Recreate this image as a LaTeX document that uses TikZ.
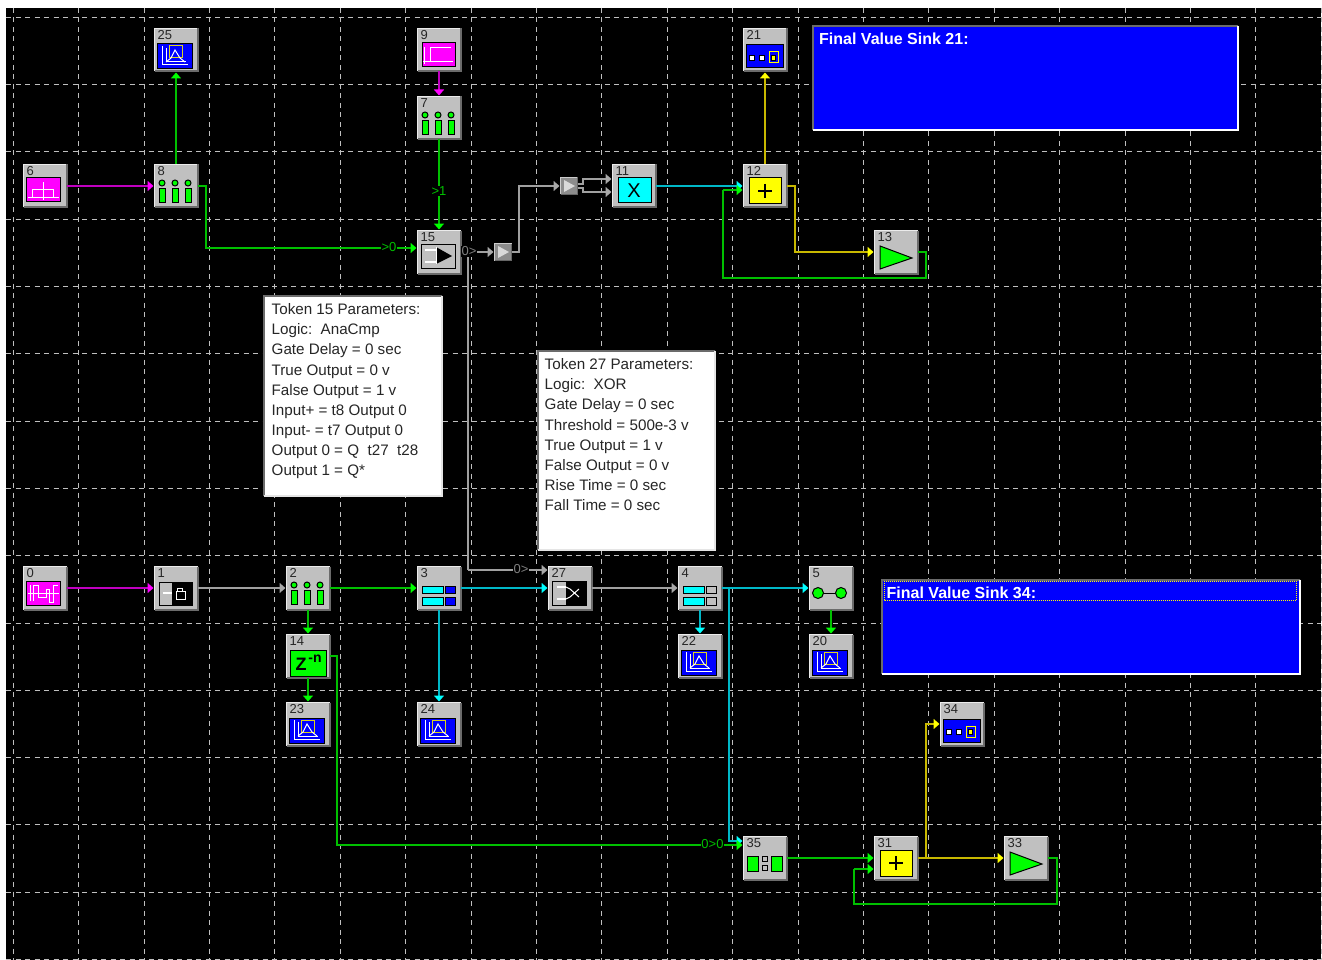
\documentclass[tikz,border=0pt]{standalone}
\usepackage{fontspec}
\setmainfont{Liberation Sans}
\usetikzlibrary{arrows.meta}
\definecolor{wgreen}{HTML}{00C000}  \definecolor{tgreen}{HTML}{00FF00}
\definecolor{wmagenta}{HTML}{C000C0}\definecolor{tmagenta}{HTML}{FF00FF}
\definecolor{wcyan}{HTML}{00B8C8}   \definecolor{tcyan}{HTML}{00FFFF}
\definecolor{wyellow}{HTML}{C8B800} \definecolor{tyellow}{HTML}{FFFF00}
\definecolor{wgray}{HTML}{A0A0A0}   \definecolor{tgray}{HTML}{A8A8A8}
\definecolor{face}{HTML}{C0C0C0}
\definecolor{sinkblue}{HTML}{0000FF}
\tikzset{
  token/.style={rectangle,fill=face,minimum width=43pt,minimum height=43pt,inner sep=0pt,outer sep=0pt},
  tokennum/.style={anchor=north west,inner sep=0pt,text=black!85,font=\fontsize{13}{13}\selectfont},
  bevelhi/.style={draw=white!92!black,line width=1pt},
  bevello/.style={draw=black!58,line width=2pt},
  bufbox/.style={rectangle,fill=black!45,minimum width=17pt,minimum height=17pt,inner sep=0pt,outer sep=0pt},
  panel/.style={draw=black,line width=1pt},
  ink/.style={draw=white,line width=1pt},
  stub/.style={draw=white,line width=2pt},
  wire/.style={line width=1.5pt,draw=w#1,shorten >=1pt,-{Triangle[length=6pt,width=10pt,color=t#1]}},
  path/.style={line width=1.5pt,draw=w#1},
  wirelabel/.style={fill=black,inner sep=0.5pt,text=#1,font=\fontsize{13}{13}\selectfont},
  gridline/.style={draw=black!25,line width=1pt,dash pattern=on 5pt off 4.5pt},
  parampanel/.style={rectangle,fill=white,minimum width=#1,inner sep=0pt,outer sep=0pt},
  paramtext/.style={anchor=north west,inner sep=0pt,align=left,text=black!85,font=\fontsize{15.2}{20.1}\selectfont},
  sinkpanel/.style={rectangle,fill=sinkblue,inner sep=0pt,outer sep=0pt},
  sinktext/.style={anchor=north west,inner sep=0pt,text=white,font=\bfseries\fontsize{16}{16}\selectfont},
  scopeicon/.pic={
    \filldraw[panel,fill=sinkblue] (-19,-6) rectangle (16,19);
    \draw[ink] (-14,-4) -- (-14,15) -- (12,15);
    \draw[ink] (-10,-2) -- (-10,12) -- (10,12);
    \draw[draw=yellow!85!black,line width=1pt] (-7,-4) rectangle (6,8);
    \draw[ink] (-10,12) -- (-5,8) -- (-1,0) -- (4,8) -- (9,12);
  },
  tallyicon/.pic={
    \foreach \xx in {-14,-1,12} {
      \filldraw[panel,fill=tgreen] (\xx,-3) circle (3);
      \filldraw[panel,fill=tgreen] (\xx-3,2.5) rectangle (\xx+3,16.5);
    }
  },
  pulseicon/.pic={
    \filldraw[panel,fill=tmagenta] (-19,-8) rectangle (15,16);
    \draw[ink] (-17,12) -- (14,12) (-13,12) |- (8,4) -- (8,12) (-2,-4) -- (-2,14);
  },
  stepicon/.pic={
    \filldraw[panel,fill=tmagenta] (-17,-7) rectangle (16,17);
    \draw[ink] (-15,-3) -- (-15,14) (-16,12) -- (14,12) (-9,12) |- (12,-2);
  },
  waveicon/.pic={
    \filldraw[panel,fill=tmagenta] (-19,-7) rectangle (15,17);
    \draw[ink] (-17,5) -- (14,5);
    \draw[ink] (-15,-3) -- (-15,13) (-12,13) -- (-12,-3) -- (-7,-3) -- (-7,9) -- (1,9) -- (1,1) -- (4,1) -- (4,14) -- (8,14) -- (8,-3) -- (13,-3);
  },
  latchicon/.pic={
    \filldraw[panel,fill=face] (-17,-6) rectangle (16,17);
    \fill[black] (-4,-6) rectangle (16,17);
    \draw[stub] (-13,5) -- (-4,5);
    \draw[ink] (0,3) rectangle (9,11) (1,3) -- (1,0) -- (6,0) -- (6,3);
  },
  compareicon/.pic={
    \filldraw[panel,fill=face] (-18,-8) rectangle (16,16);
    \draw[stub] (-14,-2) -- (-3,-2) (-14,10) -- (-3,10);
    \fill[black] (-3,-5) -- (-3,12) -- (13,4) -- cycle;
    \draw[ink] (-3,-5) -- (-3,12);
  },
  xoricon/.pic={
    \filldraw[panel,fill=face] (-18,-7) rectangle (16,17);
    \fill[black] (-4,-7) rectangle (16,17);
    \draw[stub] (-13,-1) -- (-4,-1) (-13,11) -- (-4,11);
    \draw[ink] (-4,-1) -- (0,1) -- (9,9) (-4,11) -- (0,9) -- (9,1);
  },
  splitcyan/.pic={
    \filldraw[panel,fill=tcyan] (-17,-2) rectangle (4,5);
    \filldraw[panel,fill=tcyan] (-17,9) rectangle (4,17);
    \filldraw[panel,fill=sinkblue] (6,-2) rectangle (16.5,5);
    \filldraw[panel,fill=sinkblue] (6,9) rectangle (16.5,17);
  },
  splitgray/.pic={
    \filldraw[panel,fill=tcyan] (-17,-2) rectangle (4,5);
    \filldraw[panel,fill=tcyan] (-17,9) rectangle (4,17);
    \filldraw[panel,fill=face] (6,-2) rectangle (16.5,5);
    \filldraw[panel,fill=face] (6,9) rectangle (16.5,17);
  },
  dotsicon/.pic={
    \draw[panel] (-13,5) -- (10,5);
    \filldraw[panel,fill=tgreen] (-13,5) circle (5.5);
    \filldraw[panel,fill=tgreen] (10,5) circle (5.5);
  },
  delayicon/.pic={
    \filldraw[panel,fill=tgreen] (-18,-6) rectangle (18,20);
    \node[inner sep=0pt,font=\bfseries\fontsize{18}{18}\selectfont] (zbig) at (-7,8.5) {Z};
    \node[inner sep=0pt,font=\bfseries\fontsize{14}{14}\selectfont] (zexp) at (7,3) {-n};
  },
  crossicon/.pic={
    \filldraw[panel,fill=tcyan] (-16,-8) rectangle (17,17);
    \node[inner sep=0pt,font=\fontsize{20}{20}\selectfont] (mulx) at (0,4.5) {X};
  },
  plusicon/.pic={
    \filldraw[panel,fill=tyellow] (-16,-8) rectangle (16,18);
    \draw[black,line width=2.4pt] (-7,5) -- (7,5) (0,-2) -- (0,12);
  },
  sinkicon/.pic={
    \filldraw[panel,fill=sinkblue] (-19,-5) rectangle (18,18);
    \filldraw[draw=black,fill=white,line width=0.8pt] (-15.5,5) rectangle (-10.5,10);
    \filldraw[draw=black,fill=white,line width=0.8pt] (-5.5,5) rectangle (-0.5,10);
    \draw[draw=tyellow,line width=1pt] (4,2) rectangle (13,13);
    \filldraw[draw=black,fill=tyellow,line width=0.8pt] (6.5,5) rectangle (10.5,10);
  },
  gainicon/.pic={
    \filldraw[panel,fill=tgreen] (-16,-6) -- (-16,17) -- (16,6) -- cycle;
  },
  meanicon/.pic={
    \filldraw[panel,fill=tgreen] (-18,-2) rectangle (-7,13);
    \filldraw[panel,fill=tgreen] (6,-2) rectangle (17,13);
    \filldraw[draw=black,fill=face,line width=1pt] (-3,-2) rectangle (2,3);
    \filldraw[draw=black,fill=face,line width=1pt] (-3,7.5) rectangle (2,12.5);
  },
  bufficon/.pic={
    \fill[white!85!black] (-5,-6) -- (-5,6) -- (6,0) -- cycle;
  },
}
\newcommand{\tokenblock}[3]{%
  \node[token] (t#1) at (#2) {};
  \draw[bevelhi] (t#1.south west) |- (t#1.north east);
  \draw[bevello] (t#1.north east) |- (t#1.south west);
  \node[tokennum] (n#1) at ([xshift=3pt,yshift=-2pt]t#1.north west) {#1};
  \pic at (t#1.center) {#3};
}
\newcommand{\bufblock}[2]{%
  \node[bufbox] (#1) at (#2) {};
  \draw[draw=black!20,line width=0.8pt] (#1.south west) |- (#1.north east);
  \draw[draw=black!60,line width=1pt] (#1.north east) |- (#1.south west);
  \pic at (#1.center) {bufficon};
}
\begin{document}
\begin{tikzpicture}[x=1pt,y=-1pt]
  \useasboundingbox (0,0) rectangle (1322,960);
  \fill[white] (0,0) rectangle (1322,960);
  \fill[black] (6,8) rectangle (1321,960);

  % grid
  \foreach \k in {0,...,20} \draw[gridline] ({13.2+65.4*\k},8) -- ({13.2+65.4*\k},960);
  \foreach \k in {0,...,14} \draw[gridline] (6,{17.3+67.3*\k}) -- (1321,{17.3+67.3*\k});

  % tokens, upper half
  \tokenblock{25}{176,50}{scopeicon}
  \tokenblock{6}{45,186}{pulseicon}
  \tokenblock{8}{176,186}{tallyicon}
  \tokenblock{9}{439,50}{stepicon}
  \tokenblock{7}{439,118}{tallyicon}
  \tokenblock{15}{439,252}{compareicon}
  \tokenblock{11}{634,186}{crossicon}
  \tokenblock{21}{765,50}{sinkicon}
  \tokenblock{12}{765,186}{plusicon}
  \tokenblock{13}{896,252}{gainicon}
  \bufblock{b1}{503,252}
  \bufblock{b2}{569,186}

  % tokens, lower half
  \tokenblock{0}{45,588}{waveicon}
  \tokenblock{1}{176,588}{latchicon}
  \tokenblock{2}{308,588}{tallyicon}
  \tokenblock{14}{308,656}{delayicon}
  \tokenblock{23}{308,724}{scopeicon}
  \tokenblock{3}{439,588}{splitcyan}
  \tokenblock{24}{439,724}{scopeicon}
  \tokenblock{27}{570,588}{xoricon}
  \tokenblock{4}{700,588}{splitgray}
  \tokenblock{22}{700,656}{scopeicon}
  \tokenblock{5}{831,588}{dotsicon}
  \tokenblock{20}{831,656}{scopeicon}
  \tokenblock{34}{962,724}{sinkicon}
  \tokenblock{35}{765,858}{meanicon}
  \tokenblock{31}{896,858}{plusicon}
  \tokenblock{33}{1026,858}{gainicon}

  % wires, upper half
  \draw[wire=magenta] (t6.east) -- (t8.west);
  \draw[wire=green] (t8.north) -- (t25.south);
  \draw[wire=magenta] (t9.south) -- (t7.north);
  \draw[wire=green] (t7.south) -- (t15.north);
  \node[wirelabel=wgreen] (gt1) at (439,191) {>1};
  \draw[wire=green] (t8.east) -- ++(8.5,0) |- ([yshift=4pt]t15.west);
  \node[wirelabel=wgreen] (gt0) at (389,247) {>0};
  \draw[wire=gray] (t15.east) -- (b1.west);
  \draw[path=gray] (468,253) -- (468,570);
  \node[wirelabel=gray] (out15) at (469,251.5) {0>};
  \draw[wire=gray] (468,570) -- ([yshift=18pt]t27.west);
  \node[wirelabel=gray] (out27) at (521,569.5) {0>};
  \draw[wire=gray] (b1.east) -- ++(7.5,0) |- (b2.west);
  \draw[wire=gray] ([yshift=2pt]b2.east) -- ++(5.5,0) |- ([yshift=7pt]t11.west);
  \draw[wire=gray] ([yshift=-2pt]b2.east) -- ++(5.5,0) |- ([yshift=-6pt]t11.west);
  \draw[wire=cyan] (t11.east) -- (t12.west);
  \draw[wire=yellow] (t12.north) -- (t21.south);
  \draw[wire=yellow] (t12.east) -- ++(8.5,0) |- (t13.west);
  \draw[path=green] (t13.east) -- ++(8.5,0) -- ++(0,26) -| (723,190);
  \draw[wire=green] (723,190) -- ([yshift=-4pt]t12.west);

  % wires, lower half
  \draw[wire=magenta] (t0.east) -- (t1.west);
  \draw[wire=gray] (t1.east) -- (t2.west);
  \draw[wire=green] (t2.east) -- (t3.west);
  \draw[wire=green] (t2.south) -- (t14.north);
  \draw[wire=green] (t14.south) -- (t23.north);
  \draw[wire=cyan] (t3.east) -- (t27.west);
  \draw[wire=cyan] (t3.south) -- (t24.north);
  \draw[wire=gray] (t27.east) -- (t4.west);
  \draw[wire=cyan] (t4.east) -- (t5.west);
  \draw[wire=cyan] (t4.south) -- (t22.north);
  \draw[wire=green] (t5.south) -- (t20.north);
  \draw[wire=cyan] (729,588) |- ([yshift=17pt]t35.west);
  \draw[wire=green] (t14.east) -- ++(7.5,0) |- ([yshift=13pt]t35.west);
  \node[wirelabel=wgreen] (in35) at (712.5,844.5) {0>0};
  \draw[wire=green] (t35.east) -- (t31.west);
  \draw[wire=yellow] (t31.east) -- (t33.west);
  \draw[wire=yellow] (926,858) |- (t34.west);
  \draw[path=green] (t33.east) -- ++(9.5,0) -- ++(0,46) -| (854,869);
  \draw[wire=green] (854,869) -- ([yshift=-11pt]t31.west);

  % parameter boxes
  \node[parampanel=178pt,minimum height=200pt] (p15) at (352.5,395.5) {};
  \draw[bevello] (p15.south west) |- (p15.north east);
  \draw[draw=white!90!black,line width=2pt] (p15.north east) |- (p15.south west);
  \node[paramtext] (p15t) at ([xshift=8pt,yshift=-8pt]p15.north west)
    {Token 15 Parameters:\\Logic:\ \ AnaCmp\\Gate Delay = 0 sec\\True Output = 0 v\\False Output = 1 v\\Input+ = t8 Output 0\\Input- = t7 Output 0\\Output 0 = Q\ \ t27\ \ t28\\Output 1 = Q*};
  \node[parampanel=177pt,minimum height=199pt] (p27) at (626,450) {};
  \draw[bevello] (p27.south west) |- (p27.north east);
  \draw[draw=white!90!black,line width=2pt] (p27.north east) |- (p27.south west);
  \node[paramtext] (p27t) at ([xshift=7pt,yshift=-8pt]p27.north west)
    {Token 27 Parameters:\\Logic:\ \ XOR\\Gate Delay = 0 sec\\Threshold = 500e-3 v\\True Output = 1 v\\False Output = 0 v\\Rise Time = 0 sec\\Fall Time = 0 sec};

  % final value sinks
  \node[sinkpanel,minimum width=425pt,minimum height=104pt] (s21) at (1025.5,78) {};
  \draw[bevello] (s21.south west) |- (s21.north east);
  \draw[draw=white,line width=2pt] (s21.north east) |- (s21.south west);
  \node[sinktext] (s21t) at ([xshift=6pt,yshift=-7pt]s21.north west) {Final Value Sink 21:};
  \node[sinkpanel,minimum width=418pt,minimum height=94pt] (s34) at (1090.5,626.5) {};
  \draw[bevello] (s34.south west) |- (s34.north east);
  \draw[draw=white,line width=2pt] (s34.north east) |- (s34.south west);
  \draw[draw=tyellow,line width=1pt,dash pattern=on 1pt off 1pt] (884,581) rectangle (1296.5,600);
  \node[sinktext] (s34t) at ([xshift=5pt,yshift=-7pt]s34.north west) {Final Value Sink 34:};
\end{tikzpicture}
\end{document}
